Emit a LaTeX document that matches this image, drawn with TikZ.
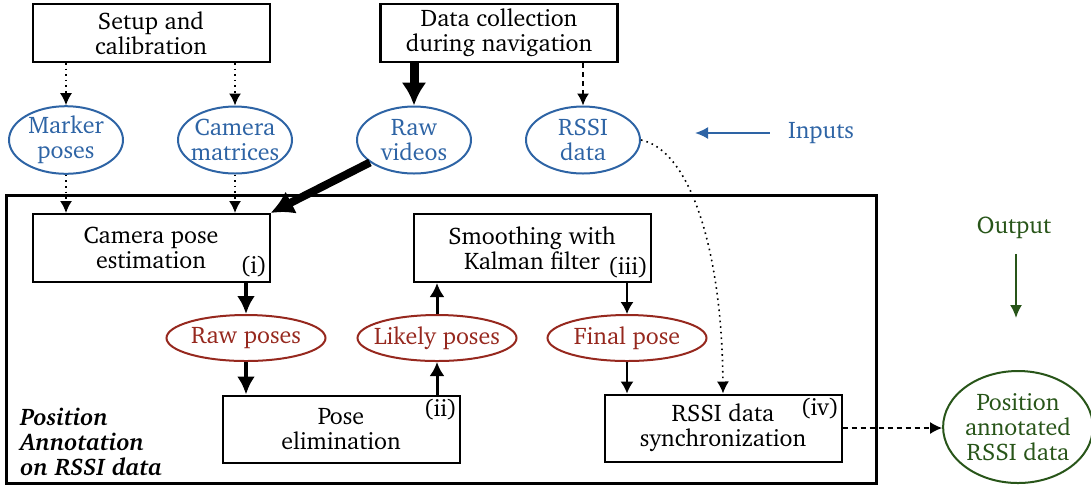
\documentclass[tikz,border=0pt]{standalone}
\usepackage[T1]{fontenc}
\usepackage{charter}
\usetikzlibrary{shapes.geometric}
\usetikzlibrary{arrows.meta}
\definecolor{inblue}{RGB}{46,100,165}
\definecolor{midred}{RGB}{150,40,30}
\definecolor{outgreen}{RGB}{40,85,25}
\tikzset{
	every node/.style={font=\fontsize{12}{12.5}\selectfont},
	stage/.style={draw, line width=1pt, align=center, inner sep=0pt, minimum width=118.5pt, minimum height=33.5pt},
	inbubble/.style={ellipse, draw=inblue, text=inblue, line width=1pt, align=center, inner sep=0pt, minimum width=57pt, minimum height=33.5pt},
	midbubble/.style={ellipse, draw=midred, text=midred, line width=1pt, align=center, inner sep=0pt, minimum width=79.5pt, minimum height=23pt},
	outbubble/.style={ellipse, draw=outgreen, text=outgreen, line width=1pt, align=center, inner sep=0pt, minimum width=74pt, minimum height=56pt},
	tag/.style={inner sep=0.5pt},
	dots/.style={dotted, line width=0.8pt, -{Latex[length=6pt,width=6pt]}},
	dashes/.style={dash pattern=on 2.5pt off 2pt, line width=0.8pt, -{Latex[length=6pt,width=6pt]}},
	fat/.style={line width=4.5pt, -{Latex[length=11.5pt,width=12.5pt]}},
	bold/.style={line width=2pt, -{Latex[length=9pt,width=9pt]}},
	semi/.style={line width=1.5pt, -{Latex[length=7pt,width=7.5pt]}},
	thin/.style={line width=0.8pt, -{Latex[length=6pt,width=6.5pt]}}
}

\begin{document}
\begin{tikzpicture}[x=0.5pt, y=-0.5pt]
	\useasboundingbox (0,0) rectangle (1091,484);

	% sources
	\node[stage, minimum height=29pt] (setup) at (151,33) {Setup and\\calibration};
	\node[stage, minimum height=29pt, line width=1.3pt] (collect) at (499,33) {Data collection\\during navigation};

	% inputs
	\node[inbubble] (marker) at (66,140) {Marker\\poses};
	\node[inbubble, inner xsep=-2pt] (cammat) at (235,140) {Camera\\matrices};
	\node[inbubble] (videos) at (414,140) {Raw\\videos};
	\node[inbubble] (rssi) at (583,140) {RSSI\\data};

	\draw[dots] (marker.north |- setup.south) -- (marker.north);
	\draw[dots] (cammat.north |- setup.south) -- (cammat.north);
	\draw[fat] (videos.north |- collect.south) -- (videos.north);
	\draw[dashes] (rssi.north |- collect.south) -- (rssi.north);

	\node[text=inblue] (inlab) at (821,133) {Inputs};
	\coordinate (inptr) at (695,133);
	\draw[inblue, line width=1pt, -{Latex[length=6.5pt,width=6pt]}] ([xshift=-5.5pt]inlab.west) -- (inptr);

	% position annotation
	\draw[line width=1.5pt] (6,195) rectangle (876,483);
	\node[anchor=south west, align=left, inner sep=0pt, font=\fontsize{12}{12.5}\selectfont\bfseries\itshape] (title) at (20,476) {Position\\Annotation\\on RSSI data};

	\node[stage, minimum height=34pt] (cam) at (151,248) {Camera pose\\estimation};
	\node[tag, anchor=south east] at ([shift={(-1pt,2.5pt)}]cam.south east) {(i)};
	\node[stage, minimum height=34pt] (smooth) at (532,248) {Smoothing with\\Kalman filter};
	\node[tag, anchor=south east] at ([shift={(-1pt,2pt)}]smooth.south east) {(iii)};
	\node[stage] (elim) at (341,429) {Pose\\elimination};
	\node[tag, anchor=north east] at ([shift={(-1pt,-2pt)}]elim.north east) {(ii)};
	\node[stage] (sync) at (723,428) {RSSI data\\synchronization};
	\node[tag, anchor=north east] at ([shift={(-1pt,-2pt)}]sync.north east) {(iv)};

	\node[midbubble] (rawp) at (246,338) {Raw poses};
	\node[midbubble, inner xsep=-3.5pt] (likely) at (437,338) {Likely poses};
	\node[midbubble] (final) at (627,338) {Final pose};

	\draw[dots] (marker) -- (marker.south |- cam.north);
	\draw[dots] (cammat) -- (cammat.south |- cam.north);
	\draw[fat, line width=4pt] (videos) -- (cam.north east);

	\draw[bold] (rawp.north |- cam.south) -- (rawp.north);
	\draw[bold] (rawp.south) -- (rawp.south |- elim.north);
	\draw[semi] (likely.south |- elim.north) -- (likely.south);
	\draw[semi] (likely.north) -- (likely.north |- smooth.south);
	\draw[thin] (final.north |- smooth.south) -- (final.north);
	\draw[thin] (final.south) -- (final.south |- sync.north);
	\draw[dots] (rssi.east) .. controls (690,150) and (722,250) .. (sync.north);

	% output
	\node[text=outgreen] (outlab) at (1014,228) {Output};
	\coordinate (outptr) at (1016,318);
	\draw[outgreen, line width=1pt, -{Latex[length=6.5pt,width=6pt]}] ([xshift=1pt,yshift=-4pt]outlab.south) -- (outptr);
	\node[outbubble] (result) at (1018,427) {Position\\annotated\\RSSI data};
	\draw[dashes] (sync.east) -- (sync.east -| result.west);
\end{tikzpicture}
\end{document}
